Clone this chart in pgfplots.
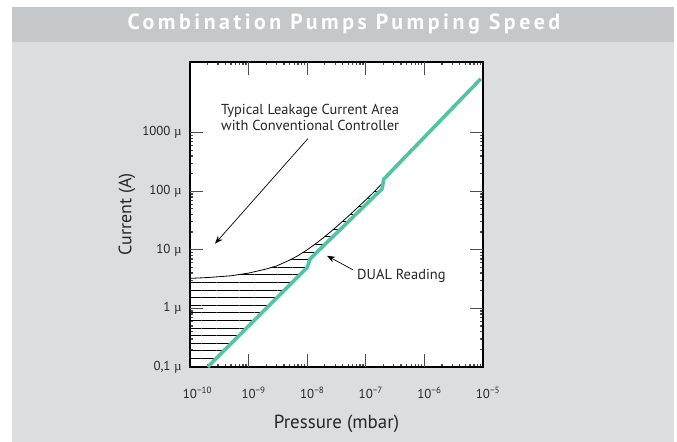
\documentclass[border=0pt]{standalone}
\usepackage{pgfplots}
\pgfplotsset{compat=1.18}
\usetikzlibrary{arrows.meta,patterns.meta}
\usepackage{fontspec}
\setmainfont{PT Sans}
\newfontfamily\serif{Liberation Serif}
\definecolor{bggray}{RGB}{220,221,223}
\definecolor{titlegray}{RGB}{198,199,201}
\definecolor{dualgreen}{RGB}{82,196,166}
\newcommand{\mic}{{\serif µ}}
\pgfplotstableread{
P I
1e-10 3.25
2e-10 3.36
5e-10 3.6
1e-9 4.0
2e-9 4.7
3e-9 5.3
5e-9 6.65
7e-9 7.96
1e-8 10.0
1.5e-8 13.4
2e-8 16.8
3e-8 23.6
5e-8 37.2
7e-8 50.8
1e-7 71.2
1.4e-7 98.4
1.96e-7 140
}\curvetable
\pgfplotstableread{
P I
2e-10 0.1
1e-8 5
1.12e-8 7
1.9e-7 110
2.02e-7 160
9.2e-6 8300
}\dualtable
\begin{document}
\begin{tikzpicture}
\fill[white] (0bp,0bp) rectangle (677bp,442bp);
\fill[bggray] (12bp,0bp) rectangle (674bp,435bp);
\fill[titlegray] (12bp,400bp) rectangle (674bp,435bp);
\fill[white] (190bp,75bp) rectangle (483bp,380bp);
\node[white, font=\fontsize{22}{26}\selectfont\bfseries\addfontfeatures{LetterSpace=16}] at (344bp,418bp) {Combination Pumps Pumping Speed};
\begin{axis}[
  at={(190bp,75bp)}, anchor=south west,
  width=293bp, height=305bp, scale only axis,
  xmode=log, ymode=log,
  xmin=1e-10, xmax=1e-5, ymin=0.1, ymax=16000,
  axis line style={line width=1.3bp, black},
  tick style={color=black!70, line width=1.3bp},
  major tick length=13bp,
  tick align=inside,
  xtick pos=both, ytick pos=both,
  xtick={1e-10,1e-9,1e-8,1e-7,1e-6,1e-5},
  xticklabels={10\rlap{\textsuperscript{−10}},10\rlap{\textsuperscript{−9}},10\rlap{\textsuperscript{−8}},10\rlap{\textsuperscript{−7}},10\rlap{\textsuperscript{−6}},10\rlap{\textsuperscript{−5}}},
  ytick={0.1,1,10,100,1000},
  yticklabels={{0,1 \mic},{1 \mic},{10 \mic},{100 \mic},{1000 \mic}},
  x tick label style={anchor=base, yshift=-31bp, font=\fontsize{13}{15}\selectfont, text=black!85},
  y tick label style={anchor=east, xshift=-5bp, font=\fontsize{13}{15}\selectfont, text=black!85},
  xlabel={Pressure (mbar)}, ylabel={Current (A)},
  x label style={at={(axis description cs:0.5,-0.187)}, anchor=center, font=\fontsize{19}{21}\selectfont, text=black!85},
  y label style={at={(axis description cs:-0.215,0.5)}, anchor=center, font=\fontsize{18}{20}\selectfont, text=black!85},
]
% hatched leakage area: curve on top, DUAL line below
\addplot[draw=none, pattern={Lines[angle=0,distance=7.6bp,line width=0.8bp]}, pattern color=black] coordinates {
  (1e-10,0.1) (1e-10,3.25) (2e-10,3.36) (5e-10,3.6) (1e-9,4.0) (2e-9,4.7) (3e-9,5.3)
  (5e-9,6.65) (7e-9,7.96) (1e-8,10.0) (1.5e-8,13.4) (2e-8,16.8) (3e-8,23.6) (5e-8,37.2)
  (7e-8,50.8) (1e-7,71.2) (1.4e-7,98.4) (1.96e-7,140)
  (1.9e-7,110) (1.12e-8,7) (1e-8,5) (2e-10,0.1)
} -- cycle;
% tick marks (inside, on all four sides), 13 bp long
\draw[black!70, line width=1.3bp] (axis cs:1e-9,0.1) -- (axis cs:1e-9,0.1667);
\draw[black!70, line width=1.3bp] (axis cs:1e-8,0.1) -- (axis cs:1e-8,0.1667);
\draw[black!70, line width=1.3bp] (axis cs:1e-7,0.1) -- (axis cs:1e-7,0.1667);
\draw[black!70, line width=1.3bp] (axis cs:1e-6,0.1) -- (axis cs:1e-6,0.1667);
\draw[black!70, line width=1.3bp] (axis cs:1e-9,16000) -- (axis cs:1e-9,9600);
\draw[black!70, line width=1.3bp] (axis cs:1e-8,16000) -- (axis cs:1e-8,9600);
\draw[black!70, line width=1.3bp] (axis cs:1e-7,16000) -- (axis cs:1e-7,9600);
\draw[black!70, line width=1.3bp] (axis cs:1e-6,16000) -- (axis cs:1e-6,9600);
\draw[black!70, line width=1.3bp] (axis cs:1e-10,1) -- (axis cs:1.667e-10,1);
\draw[black!70, line width=1.3bp] (axis cs:1e-10,10) -- (axis cs:1.667e-10,10);
\draw[black!70, line width=1.3bp] (axis cs:1e-10,100) -- (axis cs:1.667e-10,100);
\draw[black!70, line width=1.3bp] (axis cs:1e-10,1000) -- (axis cs:1.667e-10,1000);
\draw[black!70, line width=1.3bp] (axis cs:1e-5,1) -- (axis cs:6e-6,1);
\draw[black!70, line width=1.3bp] (axis cs:1e-5,10) -- (axis cs:6e-6,10);
\draw[black!70, line width=1.3bp] (axis cs:1e-5,100) -- (axis cs:6e-6,100);
\draw[black!70, line width=1.3bp] (axis cs:1e-5,1000) -- (axis cs:6e-6,1000);
\addplot[black, line width=0.8bp] table[x=P, y=I] {\curvetable};
\addplot[dualgreen, line width=3.6bp, line join=round] table[x=P, y=I] {\dualtable};
\draw[-{Stealth[length=8bp,width=6bp]}, line width=0.7bp] (axis cs:1.03e-8,789) -- (axis cs:2.67e-10,12.7);
\draw[-{Stealth[length=8bp,width=6bp]}, line width=0.7bp] (axis cs:6.05e-8,4.55) -- (axis cs:2.18e-8,7.9);
\node[anchor=north west, align=left, inner sep=0pt, font=\fontsize{14.5}{16}\selectfont, text=black!85] at (axis cs:3.38e-10,3013) {Typical Leakage Current Area\\with Conventional Controller};
\node[anchor=west, inner sep=0pt, font=\fontsize{14.5}{16}\selectfont, text=black!85] at (axis cs:7.08e-8,3.6) {DUAL Reading};
\end{axis}
\end{tikzpicture}
\end{document}
